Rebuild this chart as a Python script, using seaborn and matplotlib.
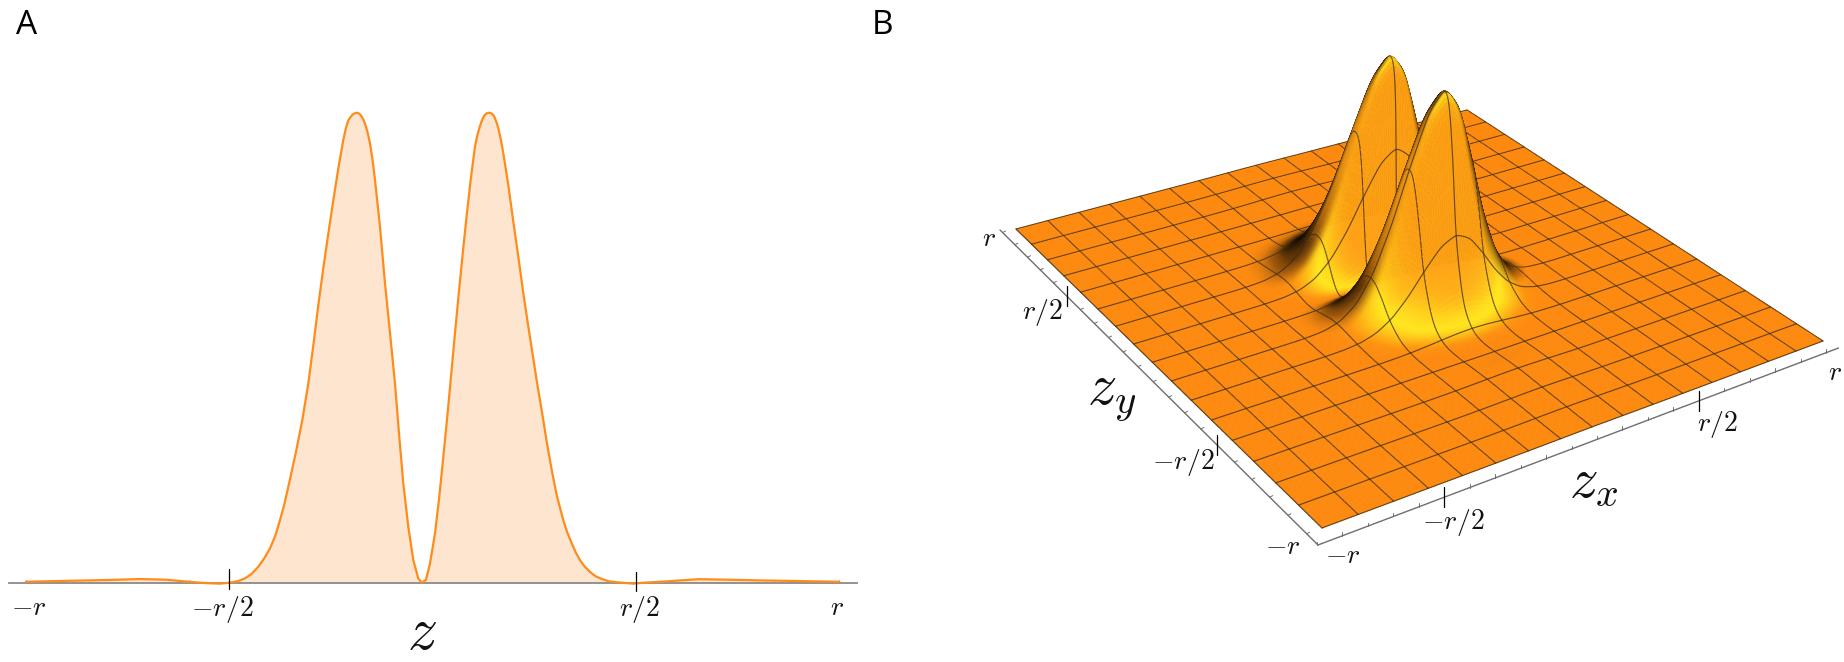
import numpy as np
import matplotlib
matplotlib.use("Agg")
import matplotlib.pyplot as plt
from matplotlib.collections import PolyCollection, LineCollection
from matplotlib.transforms import ScaledTranslation
import seaborn as sns

# ---- data (z in units of r, height relative to peak) ----
profile_z = [-1.0, -0.90, -0.80, -0.72, -0.655, -0.60, -0.556, -0.523, -0.50, -0.48, -0.4615,
             -0.445, -0.4287, -0.414, -0.40, -0.387, -0.3755, -0.365, -0.355, -0.337, -0.3206,
             -0.3058, -0.2935, -0.2812, -0.269, -0.2566, -0.2443, -0.232, -0.2198, -0.2137,
             -0.2075, -0.1977, -0.1923, -0.1869, -0.1816, -0.1763, -0.1714, -0.1665, -0.1604,
             -0.1542, -0.148, -0.1419, -0.1296, -0.1173, -0.1008, -0.0927, -0.0829, -0.0723,
             -0.06, -0.0477, -0.0354, -0.027, -0.0165, -0.0066, 0.0057, 0.0162, 0.0261,
             0.0344, 0.0425, 0.0531, 0.0629, 0.0738, 0.0836, 0.0934, 0.104, 0.1093, 0.1146,
             0.1203, 0.1261, 0.1322, 0.1384, 0.1445, 0.1507, 0.156, 0.1613, 0.1675, 0.1736,
             0.1859, 0.1982, 0.2105, 0.2228, 0.2351, 0.2459, 0.2557, 0.268, 0.2803, 0.2926,
             0.3049, 0.3211, 0.3312, 0.3418, 0.352, 0.3622, 0.374, 0.3868, 0.40, 0.4155,
             0.433, 0.4524, 0.4933, 0.52, 0.56, 0.62, 0.655, 0.72, 0.80, 0.90, 1.0]
profile_h = [0.002, 0.004, 0.0057, 0.0078, 0.0064, 0.002, -0.001, -0.002, 0.0, 0.003, 0.0092,
             0.019, 0.034, 0.052, 0.073, 0.100, 0.133, 0.166, 0.204, 0.275, 0.346,
             0.424, 0.505, 0.591, 0.669, 0.743, 0.814, 0.882, 0.942, 0.966,
             0.984, 0.9955, 0.9985, 1.0, 0.9985, 0.994, 0.987, 0.977, 0.959,
             0.935, 0.90, 0.857, 0.757, 0.637, 0.495, 0.424, 0.318, 0.211,
             0.119, 0.048, 0.009, 0.0, 0.006, 0.041, 0.105, 0.183, 0.268,
             0.34, 0.415, 0.515, 0.605, 0.70, 0.782, 0.857, 0.928, 0.95, 0.967,
             0.982, 0.993, 0.9985, 1.0, 0.9985, 0.993, 0.982, 0.967, 0.943, 0.914,
             0.846, 0.768, 0.694, 0.616, 0.545, 0.485, 0.43, 0.367, 0.30, 0.24,
             0.186, 0.133, 0.106, 0.084, 0.064, 0.048, 0.034, 0.023, 0.014, 0.008,
             0.003, 0.001, -0.002, 0.0, 0.002, 0.0055, 0.0075, 0.0065, 0.005, 0.0035, 0.002]
across_z = [-1.0, -0.54, -0.48, -0.42, -0.36, -0.30, -0.24, -0.18, -0.12, -0.06, 0.0,
            0.06, 0.12, 0.18, 0.24, 0.30, 0.36, 0.42, 0.48, 0.54, 1.0]
across_h = [0.0, 0.0, 0.002, 0.008, 0.03, 0.087, 0.21, 0.415, 0.677, 0.907, 1.0,
            0.907, 0.677, 0.415, 0.21, 0.087, 0.03, 0.008, 0.002, 0.0, 0.0]
surface_y_shift = 0.065        # the peaks of panel B sit this far up the zy mesh
tick_values = [-1.0, -0.5, 0.5, 1.0]
tick_labels = ["$-r$", "$-r/2$", "$r/2$", "$r$"]
panel_labels = ["A", "B"]
axis_labels = ["$z$", "$z_y$", "$z_x$"]
n_mesh_cells = 16

# ---- style ----
W, H_PX = 1844, 662
LINE = "#FF8C1A"
FILL = "#FEE5CF"
GREY = "#8A8A8A"
sns.set_theme(style="white")
plt.rcParams["mathtext.fontset"] = "cm"
plt.rcParams["font.family"] = ["Open Sans", "DejaVu Sans"]

fig = plt.figure(figsize=(W / 100, H_PX / 100), dpi=100, facecolor="white")


def add_axes_px(x0, x1, y_top, y_bottom):
    return fig.add_axes([x0 / W, 1 - y_bottom / H_PX, (x1 - x0) / W, (y_bottom - y_top) / H_PX])


# ---- panel A ----
ZERO_PX, R_PX, BASE_PX, PEAK_PX = 432.7, 406.7, 582.7, 112.7
ax_a = add_axes_px(9, 857, 100, BASE_PX)
ax_a.set_xlim((9 - ZERO_PX) / R_PX, (857 - ZERO_PX) / R_PX)
ax_a.set_ylim(0, (BASE_PX - 100) / (BASE_PX - PEAK_PX))
ax_a.patch.set_alpha(0)
ax_a.fill_between(profile_z, profile_h, 0, color=FILL, lw=0, clip_on=False)
sns.lineplot(x=profile_z, y=profile_h, ax=ax_a, color=LINE, linewidth=1.6,
             estimator=None, errorbar=None, sort=False, clip_on=False, zorder=3)
for side in ["left", "top", "right"]:
    ax_a.spines[side].set_visible(False)
ax_a.spines["bottom"].set_color(GREY)
ax_a.spines["bottom"].set_linewidth(1.3)
ax_a.set_yticks([])
ax_a.set_xticks(tick_values)
ax_a.set_xticklabels(tick_labels, fontsize=20, color="#111111")
ax_a.set_xticks(np.arange(-10, 11) / 10, minor=True)
ax_a.tick_params(axis="x", which="both", direction="in", length=2.4, width=0.6,
                 color="#555555", bottom=True, pad=8)
for lab, dx in zip(ax_a.get_xticklabels(), [3, -7, 3, -2]):
    lab.set_transform(lab.get_transform() + ScaledTranslation(dx / 100, 0, fig.dpi_scale_trans))
unit = 1 / (BASE_PX - PEAK_PX)
ax_a.plot([-0.5, -0.5], [(BASE_PX - 569) * unit, (BASE_PX - 589) * unit], color="black", lw=0.9,
          clip_on=False, zorder=4)
ax_a.plot([0.5, 0.5], [(BASE_PX - 572) * unit, (BASE_PX - 591) * unit], color="black", lw=0.9,
          clip_on=False, zorder=4)
fig.text(422 / W, 1 - 633 / H_PX, axis_labels[0], fontsize=43, ha="center", va="center", color="#111111")
fig.text(27 / W, 1 - 25 / H_PX, panel_labels[0], fontsize=24, ha="center", va="center", color="black")
fig.text(882 / W, 1 - 25 / H_PX, panel_labels[1], fontsize=24, ha="center", va="center", color="black")

# ---- panel B: perspective surface built from the read profiles ----
ax_b = add_axes_px(880, W, 0, H_PX)
ax_b.set_xlim(880, W)
ax_b.set_ylim(H_PX, 0)
ax_b.axis("off")
ax_b.patch.set_alpha(0)

ground = np.array([[-1, 1], [1, 1], [1, -1], [-1, -1]], float)
corner_px = np.array([[1016, 229], [1467, 110], [1823, 341], [1322, 528]], float)
A = []
b = []
for (x, y), (u, v) in zip(ground, corner_px):
    A.append([x, y, 1, 0, 0, 0, -u * x, -u * y]); b.append(u)
    A.append([0, 0, 0, x, y, 1, -v * x, -v * y]); b.append(v)
h = np.linalg.solve(np.array(A), np.array(b))
HOM = np.array([[h[0], h[1], h[2]], [h[3], h[4], h[5]], [h[6], h[7], 1.0]])
HOM_INV = np.linalg.inv(HOM)


def project(x, y, z=0.0, cu=0.0, cv=0.0):
    w = HOM[2, 0] * x + HOM[2, 1] * y + HOM[2, 2]
    u = (HOM[0, 0] * x + HOM[0, 1] * y + HOM[0, 2] + cu * z) / w
    v = (HOM[1, 0] * x + HOM[1, 1] * y + HOM[1, 2] + cv * z) / w
    return u, v


def unproject(u, v):
    p = HOM_INV @ np.array([u, v, 1.0])
    return p[0] / p[2], p[1] / p[2]


# height column fitted on the two peak tops
tops_ground = [(0.0, -0.187 + surface_y_shift), (0.0, 0.138 + surface_y_shift)]
tops_px = [(1443, 91), (1392, 56)]
cus, cvs = [], []
for (gx, gy), (tu, tv) in zip(tops_ground, tops_px):
    w = HOM[2, 0] * gx + HOM[2, 1] * gy + HOM[2, 2]
    u0, v0 = project(gx, gy)
    cus.append((tu - u0) * w)
    cvs.append((tv - v0) * w)
CU, CV = float(np.mean(cus)), float(np.mean(cvs))

# camera centre of that projection, used for the silhouettes
cam_matrix = np.array([[HOM[0, 0], HOM[0, 1], CU, HOM[0, 2]],
                       [HOM[1, 0], HOM[1, 1], CV, HOM[1, 2]],
                       [HOM[2, 0], HOM[2, 1], 0.0, HOM[2, 2]]])
null = np.linalg.svd(cam_matrix)[2][-1]
cam = null[:3] / null[3]
if cam[2] < 0:
    cam = -cam

N = n_mesh_cells * 16
grid = np.linspace(-1, 1, N + 1)
kernel = np.hanning(9)
kernel /= kernel.sum()
soft = np.hanning(15)
soft /= soft.sum()
py_raw = np.interp(grid - surface_y_shift, profile_z, profile_h)
px_raw = np.interp(grid, across_z, across_h)
Z = np.outer(np.convolve(py_raw, kernel, mode="same"), np.convolve(px_raw, kernel, mode="same"))
Z = Z / Z.max()
Z_soft = np.outer(np.convolve(py_raw, soft, mode="same"), np.convolve(px_raw, soft, mode="same"))
Z_soft = Z_soft / Z_soft.max()

SLOPE = 0.6
dzdy, dzdx = np.gradient(Z_soft, grid, grid)
norm = np.sqrt((SLOPE * dzdx) ** 2 + (SLOPE * dzdy) ** 2 + 1)
nx, ny, nz = -SLOPE * dzdx / norm, -SLOPE * dzdy / norm, 1 / norm
a_pos = -0.25 * nx - 0.97 * ny
a_pos = np.maximum(a_pos - 0.03, 0)
a_neg = 0.4 * nx - 0.92 * ny
a_neg = np.minimum(a_neg + 0.03, 0)
stops = [0, 0.15, 0.35, 0.55, 0.8, 1]
reds = [253, 253, 254, 255, 255, 252]
greens = [138, 146, 190, 232, 205, 170]
blues = [15, 15, 22, 30, 25, 25]
rgb = np.dstack([np.interp(a_pos, stops, reds), np.interp(a_pos, stops, greens),
                 np.interp(a_pos, stops, blues)]) / 255
body = np.array([254, 160, 20]) / 255
steep = np.clip((0.62 - nz) / 0.3, 0, 1)
dark = np.interp(a_neg, [-1, -0.7, -0.4, -0.2, -0.05, 0], [0.25, 0.28, 0.38, 0.62, 0.92, 1.0])
dark = dark * (1 - steep) + steep
rgb = (rgb * (1 - steep[..., None]) + body * steep[..., None]) * dark[..., None]

XX, YY = np.meshgrid(grid, grid)
vx_, vy_, vz_ = cam[0] - XX, cam[1] - YY, cam[2] - Z_soft
v_len = np.sqrt(vx_ ** 2 + vy_ ** 2 + vz_ ** 2)
n_len = np.sqrt(dzdx ** 2 + dzdy ** 2 + 1)
nv = (-dzdx * vx_ - dzdy * vy_ + vz_) / (v_len * n_len)
facing = np.clip(nv / 0.42, 0, 1)
rgb = rgb * (0.14 + 0.86 * facing)[..., None]
cell_rgb = np.clip((rgb[:-1, :-1] + rgb[1:, :-1] + rgb[:-1, 1:] + rgb[1:, 1:]) / 4, 0, 1)

U, V = project(XX, YY, Z, CU, CV)
MESH = (0.20, 0.16, 0.10, 0.72)
STEP = N // n_mesh_cells
blocks_all = [(i, i + STEP) for i in range(N - STEP, -1, -STEP)]   # far to near

for j in range(N - 1, -1, -1):                    # from the far row to the near one
    flat = Z[j:j + 2].max() < 0.03
    for i0, i1 in ([(0, N)] if flat else blocks_all):
        order = np.arange(i1 - 1, i0 - 1, -1)
        verts = np.stack([
            np.column_stack([U[j, order], V[j, order]]),
            np.column_stack([U[j, order + 1], V[j, order + 1]]),
            np.column_stack([U[j + 1, order + 1], V[j + 1, order + 1]]),
            np.column_stack([U[j + 1, order], V[j + 1, order]]),
        ], axis=1)
        colors = cell_rgb[j, order]
        ax_b.add_collection(PolyCollection(verts, facecolors=colors, edgecolors=colors,
                                           linewidths=0.45, antialiaseds=True, zorder=1), autolim=False)
        segs = []
        for i in range(i0, i1 + 1, STEP):
            if i > i0 or i0 == 0:
                segs.append([(U[j, i], V[j, i]), (U[j + 1, i], V[j + 1, i])])
        if (j + 1) % STEP == 0:
            segs.append(np.column_stack([U[j + 1, i0:i1 + 1], V[j + 1, i0:i1 + 1]]))
        if j == 0:
            segs.append(np.column_stack([U[0, i0:i1 + 1], V[0, i0:i1 + 1]]))
        ax_b.add_collection(LineCollection(segs, colors=[MESH], linewidths=0.85, capstyle="round", zorder=1),
                            autolim=False)

# box axes below the surface
corner_x, corner_y = unproject(1318, 545)
_, axis_y_at_x = unproject(1838.5, 348)
axis_x_at_y, end_y_y = unproject(1000, 230)
AX = "#6E6E6E"
uy, vy = project(np.array([corner_x, axis_x_at_y]), np.array([corner_y, end_y_y]))
ax_b.plot([1318, 1838.5], [545, 348], color=AX, lw=1.0, zorder=5)
ax_b.plot(uy, vy, color=AX, lw=1.0, zorder=5)
for t in np.arange(-10, 11) / 10:
    tx_u = 1571.5 + 254.5 * t                     # the x ticks run evenly along their axis
    tx_v = 545 + (tx_u - 1318) * (348 - 545) / (1838.5 - 1318)
    f_y = (t - corner_y) / (end_y_y - corner_y)
    ty_u, ty_v = project(corner_x + f_y * (axis_x_at_y - corner_x), t)
    if abs(abs(t) - 0.5) < 1e-9:
        ax_b.plot([tx_u, tx_u], [tx_v - 10, tx_v + 10], color="black", lw=0.9, zorder=6)
        ax_b.plot([ty_u, ty_u], [ty_v - 10, ty_v + 10], color="black", lw=0.9, zorder=6)
    else:
        ax_b.plot([tx_u, tx_u], [tx_v - 3.5, tx_v], color=AX, lw=0.7, zorder=5)
        ax_b.plot([ty_u + 3.0, ty_u], [ty_v - 1.5, ty_v], color=AX, lw=0.7, zorder=5)

label_px_y = [(1283, 547), (1183, 462), (1042, 312), (989, 239)]
label_px_x = [(1343, 556), (1453, 523), (1717, 425), (1835, 373)]
for lab, (u, v) in zip(tick_labels, label_px_y):
    ax_b.text(u, v, lab, fontsize=20, ha="center", va="center", color="#111111")
for lab, (u, v) in zip(tick_labels, label_px_x):
    ax_b.text(u, v, lab, fontsize=20, ha="center", va="center", color="#111111")
ax_b.text(1112, 395, axis_labels[1], fontsize=42, ha="center", va="center", color="#111111")
ax_b.text(1594, 482, axis_labels[2], fontsize=41, ha="center", va="center", color="#111111")

fig.savefig("out.png", dpi=100, facecolor="white")
